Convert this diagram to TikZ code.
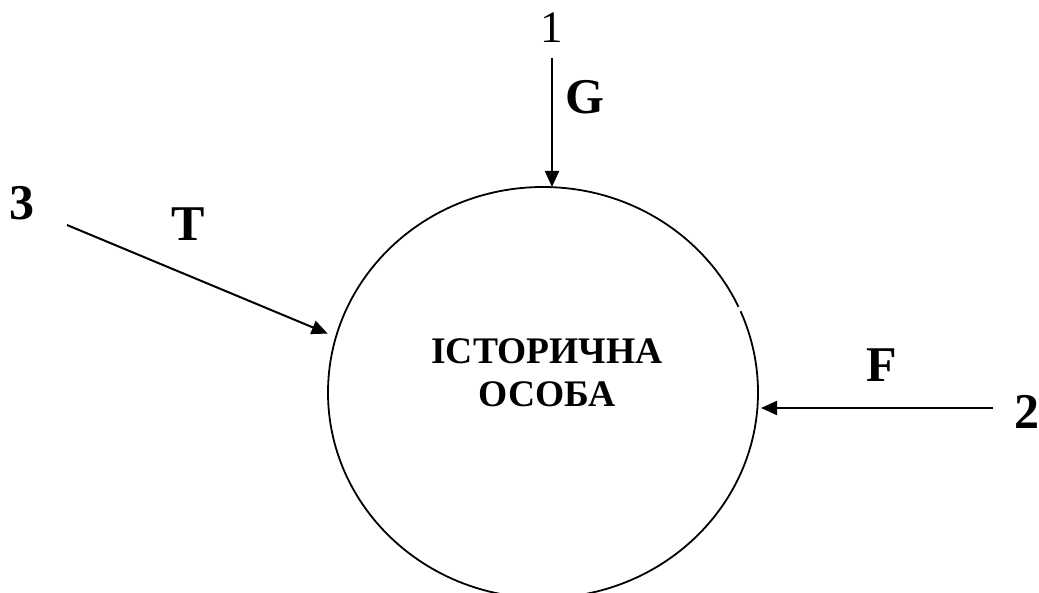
\documentclass[tikz,border=0pt]{standalone}
\usepackage{fontspec}
\setmainfont{Liberation Serif}
\usetikzlibrary{arrows.meta,shapes.geometric}
\begin{document}
\begin{tikzpicture}[x=1pt,y=-1pt,
  conn/.style={line width=2pt,-{Triangle[length=16pt,width=14pt]}},
  lbl/.style={inner sep=0pt,font=\bfseries\fontsize{50}{50}\selectfont},
  numlbl/.style={inner sep=0pt,font=\fontsize{45}{45}\selectfont},
  oval/.style={draw,ellipse,line width=1.8pt,minimum width=430pt,minimum height=411pt,inner sep=0pt,outer sep=0pt},
  title/.style={align=center,inner sep=0pt,font=\bfseries\fontsize{37.5}{43}\selectfont}]
\useasboundingbox (0,0) rectangle (1039,593);
\node[oval] (e) at (543,392.5) {};
\fill[white] (e.23) circle (2.6pt);
\node[title] (t) at (547,373) {ІСТОРИЧНА\\ОСОБА};
% labels
\node[numlbl] (n1) at (552,28) {1};
\node[lbl] (g) at (585,97) {G};
\node[lbl] (n3) at (22,203) {3};
\node[lbl] (tl) at (188,224) {T};
\node[lbl] (f) at (882,365) {F};
\node[lbl] (n2) at (1027,412) {2};
% connectors
\coordinate (s1) at (552,58);
\coordinate (s3) at (67,225);
\coordinate (s2) at (993,408);
\draw[conn] (s1) -- (s1 |- e.north);
\draw[conn,shorten >=9pt] (s3) -- (e.165);
\draw[conn,shorten >=3pt] (s2) -- (s2 -| e.east);
\end{tikzpicture}
\end{document}
